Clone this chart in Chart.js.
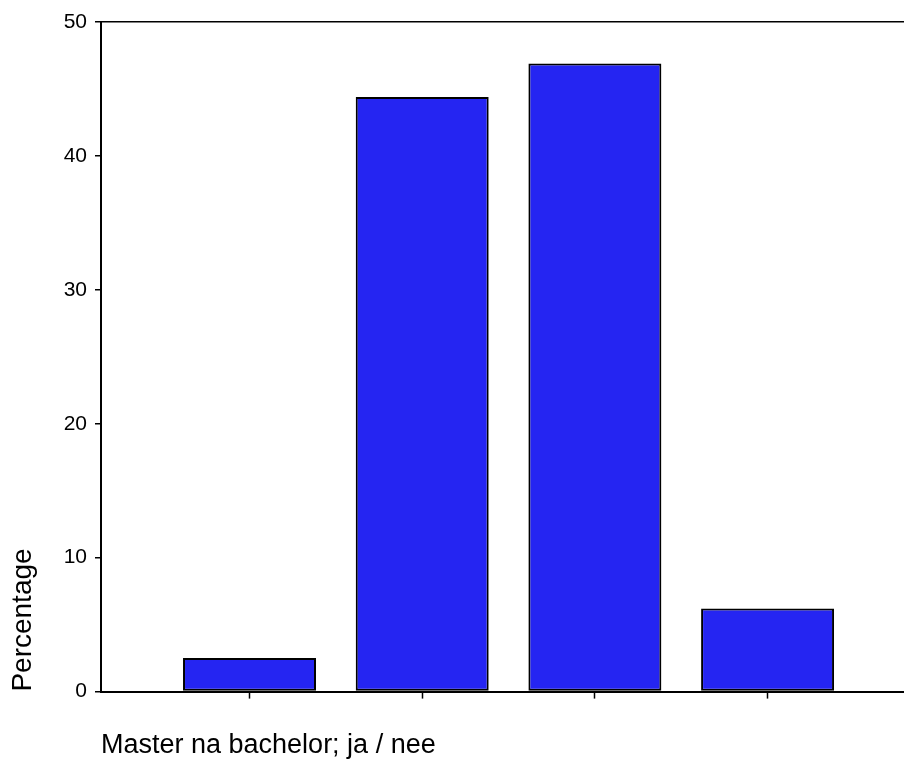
<!DOCTYPE html>
<html>
<head>
<meta charset="utf-8">
<script src="https://cdn.jsdelivr.net/npm/chart.js@4.4.1/dist/chart.umd.min.js"></script>
<style>
  html, body { margin: 0; padding: 0; background: #fff; }
  #wrap { width: 904px; height: 762px; }
</style>
</head>
<body>
<div id="wrap"><canvas id="canvas" width="904" height="762"></canvas></div>
<script>
// bar positions on the x axis (one per answer category) and their percentages
const categories = [1, 2, 3, 4];
const percentages = [2.5, 44.4, 46.9, 6.2];
const yTicks = [0, 10, 20, 30, 40, 50];

const xTitle = "Master na bachelor; ja / nee";
const yTitle = "Percentage";

const chart_data = {
  datasets: [
    {
      label: yTitle,
      data: categories.map((c, i) => ({ x: c, y: percentages[i] })),
      backgroundColor: "#2525f2",
      borderColor: "#000",
      borderWidth: 2,
      borderSkipped: false,
      barPercentage: 0.77,
      categoryPercentage: 1,
    },
  ],
};

const config = {
  type: "bar",
  data: chart_data,
  options: {
    responsive: false,
    animation: false,
    layout: { padding: { top: 22, right: 0, bottom: 0, left: 0 } },
    plugins: {
      legend: { display: false },
      tooltip: { enabled: false },
    },
    scales: {
      x: {
        type: "linear",
        min: 0.14,
        max: 4.79,
        offset: false,
        afterBuildTicks: (scale) => {
          scale.ticks = categories.map((v) => ({ value: v }));
        },
        ticks: { display: false },
        grid: {
          offset: false,
          drawOnChartArea: false,
          drawTicks: true,
          tickLength: 7,
          tickColor: "#000",
          tickWidth: 1.5,
        },
        border: { display: true, color: "#000", width: 2 },
        title: {
          display: true,
          text: xTitle,
          align: "start",
          color: "#000",
          font: { family: "Liberation Sans, Arial", size: 27 },
          padding: { top: 31, bottom: 0 },
        },
      },
      y: {
        min: 0,
        max: 50,
        afterBuildTicks: (scale) => {
          scale.ticks = yTicks.map((v) => ({ value: v }));
        },
        afterFit: (scale) => {
          scale.width = 101;
        },
        ticks: {
          color: "#000",
          padding: 8,
          font: { family: "Liberation Sans, Arial", size: 21 },
        },
        grid: {
          drawOnChartArea: true,
          color: (ctx) => (ctx.tick && ctx.tick.value === 50 ? "#000" : "rgba(0,0,0,0)"),
          lineWidth: 1.5,
          tickLength: 6,
          tickColor: "#000",
          tickWidth: 1.5,
        },
        border: { display: true, color: "#000", width: 2 },
        title: {
          display: true,
          text: yTitle,
          align: "start",
          color: "#000",
          font: { family: "Liberation Sans, Arial", size: 28 },
          padding: { top: 6, bottom: 0 },
        },
      },
    },
  },
};

window.onload = function () {
  const ctx = document.getElementById("canvas").getContext("2d");
  new Chart(ctx, config);
};
</script>
</body>
</html>
